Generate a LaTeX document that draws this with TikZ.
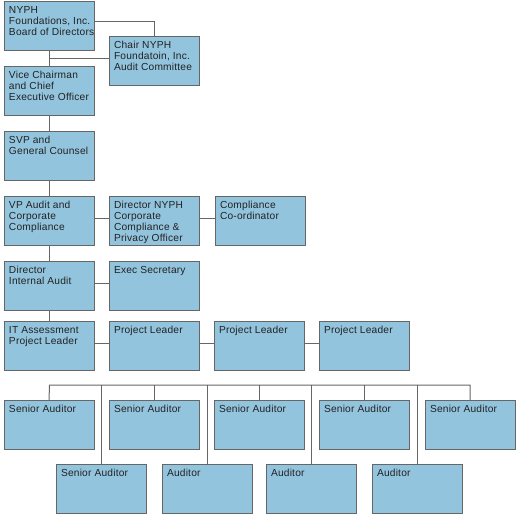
\documentclass[tikz,border=0pt]{standalone}
\usepackage{fontspec}
\setmainfont[LetterSpace=2.0]{Liberation Sans}
\usepackage{tikz}
\usetikzlibrary{positioning}
\definecolor{unitfill}{HTML}{93C4DD}
\definecolor{unitline}{HTML}{666666}
\definecolor{unittext}{HTML}{222222}
\newcommand{\unitbox}[1]{\parbox[c][41pt][t]{80pt}{\vspace{1.5pt}\makebox[80pt][l]{%
  \begin{tabular}[t]{@{}l@{}}#1\end{tabular}}}}

\begin{document}
\begin{tikzpicture}[x=1pt,y=-1pt,
  unit/.style={draw=unitline,fill=unitfill,line width=1pt,anchor=north west,
    inner xsep=5pt,inner ysep=4pt,outer sep=0pt,text=unittext,
    font=\fontsize{10.2}{10.7}\selectfont},
  link/.style={draw=unitline,line width=1pt}
]
\useasboundingbox (0,0) rectangle (520,515);

\node[unit] (nyph) at (4,1) {\unitbox{NYPH\\Foundations, Inc.\\Board of Directors}};
\node[unit] (chair) at (109,36) {\unitbox{Chair NYPH\\Foundatoin, Inc.\\Audit Committee}};
\node[unit] (ceo) at (4,66) {\unitbox{Vice Chairman\\and Chief\\Executive Officer}};
\node[unit] (svp) at (4,131) {\unitbox{SVP and\\General Counsel}};
\node[unit] (vpaudit) at (4,196) {\unitbox{VP Audit and\\Corporate\\Compliance}};
\node[unit] (dirnyph) at (109,196) {\unitbox{Director NYPH\\Corporate\\Compliance \&\\Privacy Officer}};
\node[unit] (coord) at (215,196) {\unitbox{Compliance\\Co-ordinator}};
\node[unit] (dia) at (4,261) {\unitbox{Director\\Internal Audit}};
\node[unit] (secr) at (109,261) {\unitbox{Exec Secretary}};
\node[unit] (itpl) at (4,321) {\unitbox{IT Assessment\\Project Leader}};
\node[unit] (pla) at (109,321) {\unitbox{Project Leader}};
\node[unit] (plb) at (214,321) {\unitbox{Project Leader}};
\node[unit] (plc) at (319,321) {\unitbox{Project Leader}};

% auditors, upper row
\node[unit] (sra) at (4,400) {\unitbox{Senior Auditor}};
\node[unit] (srb) at (109,400) {\unitbox{Senior Auditor}};
\node[unit] (src) at (214,400) {\unitbox{Senior Auditor}};
\node[unit] (srd) at (319,400) {\unitbox{Senior Auditor}};
\node[unit] (sre) at (425,400) {\unitbox{Senior Auditor}};
% auditors, lower row
\node[unit] (srf) at (56,464) {\unitbox{Senior Auditor}};
\node[unit] (auda) at (162,464) {\unitbox{Auditor}};
\node[unit] (audb) at (266,464) {\unitbox{Auditor}};
\node[unit] (audc) at (372,464) {\unitbox{Auditor}};

\draw[link] ([yshift=4pt]nyph.east) -| (chair.north);
\draw[link] (nyph.south) -- (ceo.north);
\draw[link] ([yshift=2pt]chair.west) -- ([yshift=2pt]chair.west -| nyph.south);
\draw[link] (ceo.south) -- (svp.north);
\draw[link] (svp.south) -- (vpaudit.north);
\draw[link] (vpaudit.south) -- (dia.north);
\draw[link] (dia.south) -- (itpl.north);
\draw[link] ([yshift=2pt]vpaudit.east) -- ([yshift=2pt]dirnyph.west);
\draw[link] ([yshift=2pt]dirnyph.east) -- ([yshift=2pt]coord.west);
\draw[link] ([yshift=2pt]dia.east) -- ([yshift=2pt]secr.west);
\draw[link] ([yshift=2pt]itpl.east) -- ([yshift=2pt]pla.west);
\draw[link] ([yshift=2pt]pla.east) -- ([yshift=2pt]plb.west);
\draw[link] ([yshift=2pt]plb.east) -- ([yshift=2pt]plc.west);

\coordinate (bus) at (49.5,385);
\draw[link] (sra.north) -- (bus) -| (sre.north);
\draw[link] (srb.north) -- (srb.north |- bus);
\draw[link] (src.north) -- (src.north |- bus);
\draw[link] (srd.north) -- (srd.north |- bus);
\draw[link] (srf.north) -- (srf.north |- bus);
\draw[link] (auda.north) -- (auda.north |- bus);
\draw[link] (audb.north) -- (audb.north |- bus);
\draw[link] (audc.north) -- (audc.north |- bus);
\end{tikzpicture}
\end{document}
